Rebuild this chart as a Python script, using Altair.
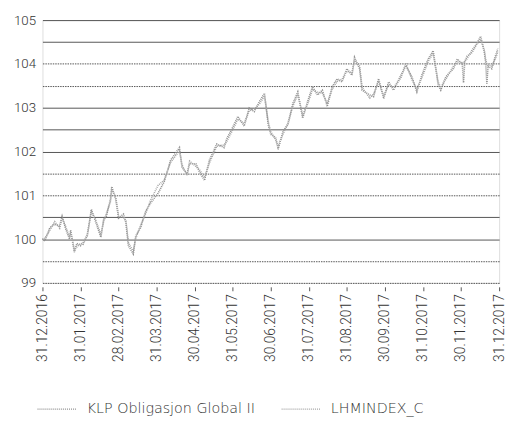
import altair as alt
import pandas as pd

series_names = ["KLP Obligasjon Global II", "LHMINDEX_C"]

dates = [
    "2016-12-31", "2017-01-02", "2017-01-06", "2017-01-10", "2017-01-14", "2017-01-16", "2017-01-19",
    "2017-01-22", "2017-01-23", "2017-01-26", "2017-01-28", "2017-01-31", "2017-02-02", "2017-02-05",
    "2017-02-08", "2017-02-11", "2017-02-15", "2017-02-17", "2017-02-19", "2017-02-22", "2017-02-23",
    "2017-02-26", "2017-02-28", "2017-03-04", "2017-03-06", "2017-03-08", "2017-03-12", "2017-03-14",
    "2017-03-18", "2017-03-22", "2017-03-26", "2017-04-01", "2017-04-06", "2017-04-11", "2017-04-18",
    "2017-04-20", "2017-04-24", "2017-04-26", "2017-05-01", "2017-05-04", "2017-05-08", "2017-05-12",
    "2017-05-18", "2017-05-24", "2017-05-26", "2017-06-01", "2017-06-04", "2017-06-09", "2017-06-13",
    "2017-06-17", "2017-06-21", "2017-06-25", "2017-06-28", "2017-06-30", "2017-07-04", "2017-07-06",
    "2017-07-10", "2017-07-14", "2017-07-18", "2017-07-22", "2017-07-26", "2017-07-30", "2017-08-03",
    "2017-08-07", "2017-08-11", "2017-08-15", "2017-08-19", "2017-08-23", "2017-08-27", "2017-08-31",
    "2017-09-04", "2017-09-06", "2017-09-10", "2017-09-12", "2017-09-18", "2017-09-21", "2017-09-25",
    "2017-09-29", "2017-10-03", "2017-10-07", "2017-10-13", "2017-10-17", "2017-10-22", "2017-10-26",
    "2017-10-30", "2017-11-04", "2017-11-08", "2017-11-12", "2017-11-14", "2017-11-18", "2017-11-24",
    "2017-11-27", "2017-12-01", "2017-12-02", "2017-12-03", "2017-12-05", "2017-12-09", "2017-12-16",
    "2017-12-19", "2017-12-20", "2017-12-21", "2017-12-22", "2017-12-25", "2017-12-28", "2017-12-30",
]

klp = [
    100.00, 99.96, 100.26, 100.34, 100.30, 100.52, 100.23,
    100.00, 100.20, 99.70, 99.90, 99.85, 99.92, 100.07,
    100.68, 100.41, 100.04, 100.45, 100.52, 100.90, 101.20,
    100.90, 100.48, 100.57, 100.37, 99.85, 99.66, 100.07,
    100.26, 100.63, 100.82, 101.04, 101.31, 101.80, 102.09,
    101.64, 101.49, 101.72, 101.72, 101.53, 101.34, 101.80,
    102.17, 102.09, 102.28, 102.61, 102.80, 102.58, 102.99,
    102.91, 103.14, 103.33, 102.61, 102.39, 102.32, 102.05,
    102.47, 102.61, 103.10, 103.36, 102.76, 103.14, 103.48,
    103.29, 103.40, 103.03, 103.48, 103.66, 103.59, 103.89,
    103.74, 104.15, 103.89, 103.40, 103.29, 103.25, 103.66,
    103.21, 103.59, 103.40, 103.74, 103.96, 103.70, 103.36,
    103.74, 104.11, 104.30, 103.51, 103.40, 103.71, 103.89,
    104.11, 104.00, 103.57, 104.05, 104.18, 104.26, 104.63,
    104.26, 104.05, 103.55, 103.95, 103.89, 104.18, 104.35,
]

lhm = [
    100.00, 100.02, 100.20, 100.40, 100.25, 100.48, 100.28,
    100.05, 100.15, 99.75, 99.82, 99.90, 99.88, 100.12,
    100.62, 100.45, 100.10, 100.40, 100.58, 100.85, 101.12,
    100.95, 100.52, 100.50, 100.42, 99.92, 99.72, 100.02,
    100.32, 100.58, 100.88, 101.22, 101.35, 101.75, 102.02,
    101.70, 101.45, 101.78, 101.66, 101.58, 101.40, 101.74,
    102.12, 102.15, 102.22, 102.55, 102.74, 102.64, 102.93,
    102.97, 103.08, 103.27, 102.68, 102.45, 102.26, 102.12,
    102.40, 102.66, 103.04, 103.30, 102.83, 103.08, 103.42,
    103.35, 103.34, 103.10, 103.42, 103.60, 103.65, 103.83,
    103.80, 104.08, 103.95, 103.46, 103.22, 103.31, 103.60,
    103.27, 103.53, 103.46, 103.68, 104.02, 103.64, 103.42,
    103.68, 104.05, 104.25, 103.58, 103.46, 103.65, 103.95,
    104.05, 104.03, 104.02, 104.06, 104.12, 104.32, 104.56,
    104.30, 104.10, 104.00, 103.98, 103.95, 104.12, 104.28,
]

tick_labels = [
    "31.12.2016", "31.01.2017", "28.02.2017", "31.03.2017", "30.04.2017", "31.05.2017",
    "30.06.2017", "31.07.2017", "31.08.2017", "30.09.2017", "31.10.2017", "30.11.2017",
    "31.12.2017",
]
y_grid = [99, 99.5, 100, 100.5, 101, 101.5, 102, 102.5, 103, 103.5, 104, 104.5, 105]
dotted_grid = [99, 99.5, 101, 101.5, 103.5, 104]

df = pd.DataFrame({
    "date": dates + dates,
    "value": klp + lhm,
    "series": [series_names[0]] * len(dates) + [series_names[1]] * len(dates),
})

font = "Roboto"
legend_font = "DejaVu Sans"
dotted_test = " || ".join(f"datum.value == {v}" for v in dotted_grid)
label_array = "[" + ", ".join(f"'{t}'" for t in tick_labels) + "]"

# month-end ticks are evenly spaced: position = months elapsed since 31.12.2016
pos_expr = (
    "(utcyear(toDate(datum.date)) - 2017) * 12 + utcmonth(toDate(datum.date)) + "
    "utcdate(toDate(datum.date)) / utcdate(utc(utcyear(toDate(datum.date)), utcmonth(toDate(datum.date)) + 1, 0))"
)

x_axis = alt.Axis(
    values=list(range(len(tick_labels))),
    labelExpr=f"{label_array}[datum.value]",
    labelAngle=-90,
    grid=False,
    domain=False,
    ticks=True,
    tickSize=4,
    tickColor="#555555",
    offset=4,
    labelPadding=3,
    labelFont=font,
    labelFontSize=14,
    labelFontWeight=300,
    labelColor="#333333",
    labelOverlap=False,
    title=None,
)

y_axis = alt.Axis(
    values=y_grid,
    labelExpr="datum.value % 1 == 0 ? format(datum.value, 'd') : ''",
    grid=True,
    gridColor="#555555",
    gridWidth=1,
    gridDash={"condition": {"test": dotted_test, "value": [1.5, 1]}, "value": []},
    domain=False,
    ticks=False,
    labelPadding=7,
    labelFont=font,
    labelFontSize=13.5,
    labelFontWeight=300,
    labelColor="#333333",
    title=None,
)

chart = (
    alt.Chart(df)
    .transform_calculate(pos=pos_expr)
    .mark_line(strokeWidth=1.6, strokeDash=[1, 1])
    .encode(
        x=alt.X("pos:Q", scale=alt.Scale(domain=[0, 12], nice=False, zero=False), axis=x_axis),
        y=alt.Y("value:Q", scale=alt.Scale(domain=[99, 105], nice=False, zero=False), axis=y_axis),
        color=alt.Color(
            "series:N",
            scale=alt.Scale(domain=series_names, range=["#8f8f8f", "#a3a3a3"]),
            legend=alt.Legend(
                orient="none",
                legendX=-6,
                legendY=374,
                direction="horizontal",
                title=None,
                symbolType="stroke",
                symbolSize=1600,
                symbolStrokeWidth=1.3,
                symbolDash=[1, 1],
                labelFont=legend_font,
                labelFontSize=14.5,
                labelFontWeight=200,
                labelColor="#333333",
                labelOffset=9,
                columnPadding=24,
                labelLimit=400,
            ),
        ),
        order=alt.Order("pos:Q"),
    )
    .properties(
        width=464,
        height=267,
        autosize=alt.AutoSizeParams(type="none"),
        padding={"left": 35, "top": 9, "right": 8, "bottom": 135},
    )
    .configure_view(stroke=None)
    .configure(background="white")
)

chart.save("out.html", embed_options={"renderer": "svg", "actions": False})
